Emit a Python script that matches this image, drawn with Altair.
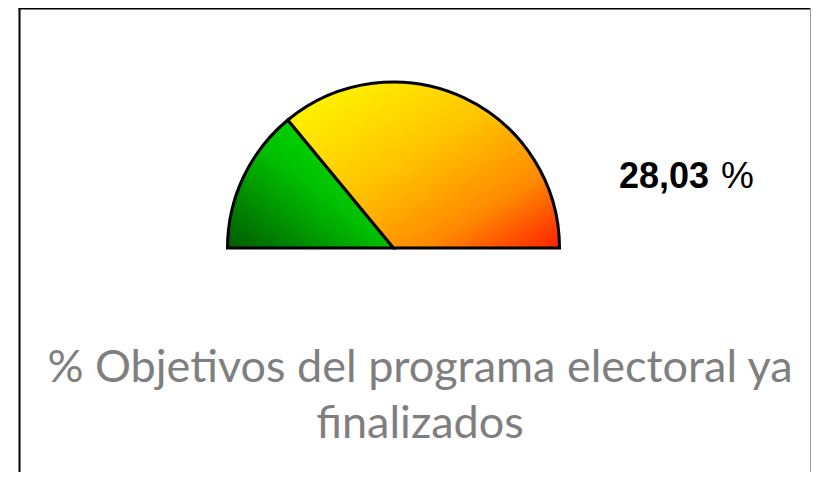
import math
import altair as alt
import pandas as pd

# Data
categories = ["finalizados", "pendientes"]
values = [28.03, 71.97]
order = [0, 1]
title_lines = ["% Objetivos del programa electoral ya", "finalizados"]

df = pd.DataFrame({"cat": categories, "value": values, "order": order})

theta_scale = alt.Scale(domain=[0, 100], range=[-math.pi / 2, math.pi / 2])

base = alt.Chart(df).transform_stack(
    stack="value", groupby=[], as_=["v0", "v1"],
    sort=[alt.SortField("order", order="ascending")]
)

green_fill = alt.LinearGradient(
    gradient="linear",
    stops=[alt.GradientStop(color="#005a00", offset=0),
           alt.GradientStop(color="#00c000", offset=0.5),
           alt.GradientStop(color="#00ee00", offset=1)],
    x1=0, y1=1, x2=1, y2=0,
)
orange_fill = alt.LinearGradient(
    gradient="linear",
    stops=[alt.GradientStop(color="#ffff00", offset=0),
           alt.GradientStop(color="#ffc400", offset=0.45),
           alt.GradientStop(color="#ff8a00", offset=0.75),
           alt.GradientStop(color="#ff2000", offset=1)],
    x1=0, y1=0, x2=1, y2=1,
)

cx, cy, r = 385.5, 240, 166

green = base.transform_filter(alt.datum.cat == "finalizados").mark_arc(
    radius=r, stroke="black", strokeWidth=3, fill=green_fill, strokeJoin="miter"
).encode(
    theta=alt.Theta("v0:Q", scale=theta_scale),
    theta2="v1:Q",
    x=alt.value(cx), y=alt.value(cy),
)
orange = base.transform_filter(alt.datum.cat == "pendientes").mark_arc(
    radius=r, stroke="black", strokeWidth=3, fill=orange_fill, strokeJoin="miter"
).encode(
    theta=alt.Theta("v0:Q", scale=theta_scale),
    theta2="v1:Q",
    x=alt.value(cx), y=alt.value(cy),
)

one = pd.DataFrame({"v": [values[0]]})

num = alt.Chart(one).transform_calculate(
    lbl="replace(format(datum.v, '.2f'), '.', ',')"
).mark_text(
    font="Liberation Sans", fontSize=36, fontWeight="bold",
    align="left", baseline="alphabetic", color="black"
).encode(text="lbl:N", x=alt.value(611), y=alt.value(180))

pct = alt.Chart(one).mark_text(
    text="%", font="Liberation Sans", fontSize=37,
    align="left", baseline="alphabetic", color="black"
).encode(x=alt.value(713), y=alt.value(180))

title = alt.Chart(one).mark_text(
    text="\n".join(title_lines), lineBreak="\n", font="Lato", fontSize=45,
    color="#7f7f7f", align="center", baseline="alphabetic", lineHeight=56
).encode(x=alt.value(412), y=alt.value(374))

left = alt.Chart(one).mark_rule(color="black", strokeWidth=2).encode(
    x=alt.value(11.5), y=alt.value(0), y2=alt.value(470))
top = alt.Chart(one).mark_rule(color="black", strokeWidth=3).encode(
    x=alt.value(10.5), x2=alt.value(803), y=alt.value(0))
right = alt.Chart(one).mark_rule(color="#999999", strokeWidth=1).encode(
    x=alt.value(802.5), y=alt.value(0), y2=alt.value(470))

chart = alt.layer(green, orange, num, pct, title, left, top, right).properties(
    width=803, height=464, padding=0, autosize=alt.AutoSizeParams(type="none")
).configure_view(stroke=None)

chart.save("out.html", embed_options={"renderer": "svg", "actions": False})
